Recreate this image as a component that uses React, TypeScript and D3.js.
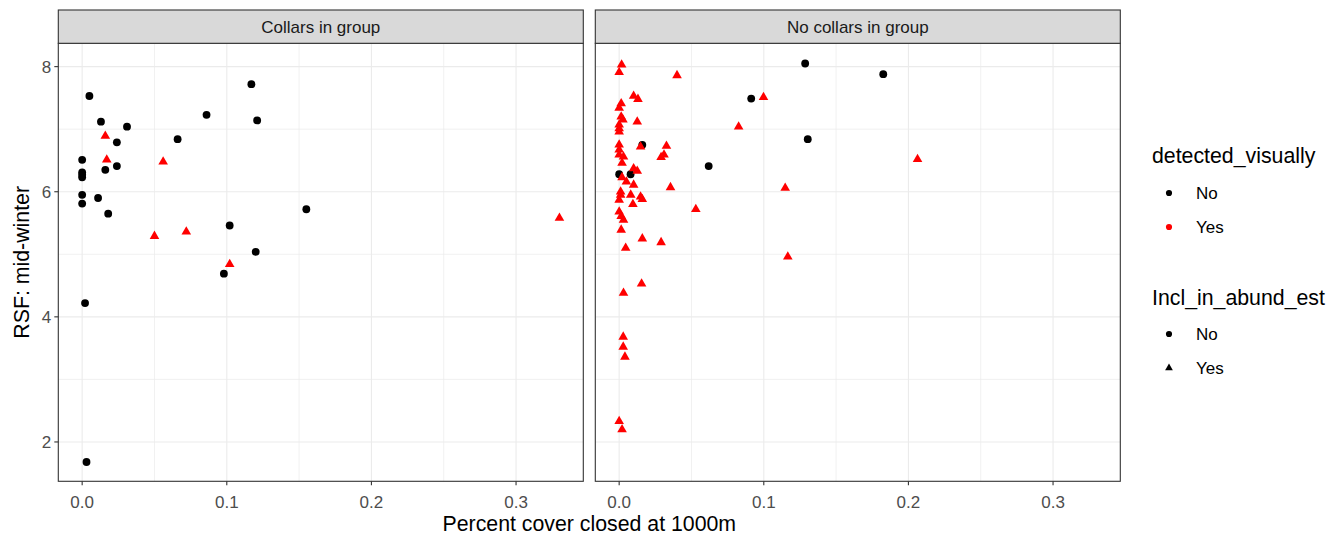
import * as d3 from "d3";

// facet strips
const facets = ["Collars in group", "No collars in group"];

// Collars in group: detected_visually = No (circles)
const collarsNoX = [0.005, 0.013, 0.031, 0.024, 0, 0, 0, 0, 0.016, 0.024, 0.011, 0.018, 0, 0, 0.066, 0.086, 0.117, 0.121, 0.155, 0.102, 0.12, 0.098, 0.003, 0.002];
const collarsNoY = [7.53, 7.12, 7.04, 6.79, 6.51, 6.31, 6.27, 6.23, 6.35, 6.41, 5.9, 5.65, 5.95, 5.81, 6.84, 7.23, 7.72, 7.14, 5.72, 5.46, 5.04, 4.69, 1.68, 4.22];
// Collars in group: detected_visually = Yes (triangles)
const collarsYesX = [0.016, 0.017, 0.056, 0.05, 0.072, 0.102, 0.33];
const collarsYesY = [6.89, 6.51, 6.48, 5.29, 5.36, 4.84, 5.58];

// No collars in group
const noCollarsNoX = [0.1286, 0.1826, 0.0913, 0.1304, 0.016, 0.0619, 0, 0.0079];
const noCollarsNoY = [8.05, 7.88, 7.49, 6.84, 6.75, 6.41, 6.28, 6.28];
const noCollarsYesX = [
  0.0017, 0, 0.04, 0.01, 0.013, 0.0014, 0, 0.0014, 0.0026, 0.0125, 0, 0, 0, 0.0826,
  0, 0, 0, 0.0148, 0.0327, 0.031, 0.029, 0.003, 0.002, 0.01, 0.0125, 0.002, 0.005,
  0.01, 0.0355, 0.001, 0.001, 0, 0.008, 0.0148, 0.016, 0.0095, 0.053, 0, 0.0014,
  0.003, 0.0014, 0.016, 0.029, 0.0045, 0.0155, 0.003, 0.0028, 0.0028, 0.004, 0, 0.002,
  0.0998, 0.2063, 0.1148, 0.1166,
];
const noCollarsYesY = [
  8.03, 7.91, 7.86, 7.53, 7.48, 7.41, 7.34, 7.2, 7.15, 7.12, 7.07, 7.01, 6.96, 7.04,
  6.75, 6.67, 6.59, 6.72, 6.73, 6.59, 6.55, 6.56, 6.46, 6.37, 6.33, 6.23, 6.16,
  6.11, 6.07, 6.0, 5.95, 5.87, 5.95, 5.92, 5.88, 5.8, 5.72, 5.68, 5.61,
  5.55, 5.39, 5.25, 5.19, 5.1, 4.53, 4.38, 3.68, 3.52, 3.36, 2.33, 2.2,
  7.51, 6.52, 6.06, 4.96,
];

const xTicks = [0, 0.1, 0.2, 0.3];
const xMinor = [0.05, 0.15, 0.25];
const yTicks = [2, 4, 6, 8];
const yMinor = [3, 5, 7];
const detectedLevels = ["No", "Yes"];
const inclLevels = ["No", "Yes"];

const panels = [
  { nx: collarsNoX, ny: collarsNoY, yx: collarsYesX, yy: collarsYesY },
  { nx: noCollarsNoX, ny: noCollarsNoY, yx: noCollarsYesX, yy: noCollarsYesY },
];

const W = 1338;
const H = 535;
const panelW = 525;
const panelLeft = [58.3, 595.3];
const panelTop = 43.3;
const panelBottom = 481.3;
const stripTop = 10;
const font = "'Liberation Sans', Arial, sans-serif";

const y = d3.scaleLinear().domain([1.371, 8.373]).range([panelBottom, panelTop]);

const circle = d3.symbol(d3.symbolCircle, 48)()!;
const tri = d3.symbol(d3.symbolTriangle, 40)()!;
const circleKey = d3.symbol(d3.symbolCircle, 30)()!;
const triKey = d3.symbol(d3.symbolTriangle, 26)()!;

function Panel({ i }: { i: number }) {
  const left = panelLeft[i];
  const x = d3.scaleLinear().domain([-0.0165, 0.3465]).range([left, left + panelW]);
  const p = panels[i];
  return (
    <g>
      {xMinor.map((t) => (
        <line key={"xm" + t} x1={x(t)} x2={x(t)} y1={panelTop} y2={panelBottom} stroke="#EBEBEB" strokeWidth={0.7} />
      ))}
      {yMinor.map((t) => (
        <line key={"ym" + t} x1={left} x2={left + panelW} y1={y(t)} y2={y(t)} stroke="#EBEBEB" strokeWidth={0.7} />
      ))}
      {xTicks.map((t) => (
        <line key={"x" + t} x1={x(t)} x2={x(t)} y1={panelTop} y2={panelBottom} stroke="#EBEBEB" strokeWidth={1.1} />
      ))}
      {yTicks.map((t) => (
        <line key={"y" + t} x1={left} x2={left + panelW} y1={y(t)} y2={y(t)} stroke="#EBEBEB" strokeWidth={1.1} />
      ))}
      {p.nx.map((v, j) => (
        <path key={"n" + j} d={circle} transform={`translate(${x(v)},${y(p.ny[j])})`} fill="#000" />
      ))}
      {p.yx.map((v, j) => (
        <path key={"t" + j} d={tri} transform={`translate(${x(v)},${y(p.yy[j])})`} fill="#FF0000" />
      ))}
      <rect x={left} y={panelTop} width={panelW} height={panelBottom - panelTop} fill="none" stroke="#333333" strokeWidth={1.1} />
      <rect x={left} y={stripTop} width={panelW} height={panelTop - stripTop} fill="#D9D9D9" stroke="#333333" strokeWidth={1.1} />
      <text x={left + panelW / 2} y={(stripTop + panelTop) / 2} dy="0.35em" textAnchor="middle" fontSize={17} fill="#1A1A1A">
        {facets[i]}
      </text>
      {xTicks.map((t) => (
        <g key={"xt" + t}>
          <line x1={x(t)} x2={x(t)} y1={panelBottom} y2={panelBottom + 4} stroke="#333333" strokeWidth={1.1} />
          <text x={x(t)} y={502} dy="0.35em" textAnchor="middle" fontSize={17} fill="#4D4D4D">
            {d3.format(".1f")(t)}
          </text>
        </g>
      ))}
      {i === 0 &&
        yTicks.map((t) => (
          <g key={"yt" + t}>
            <line x1={left - 4} x2={left} y1={y(t)} y2={y(t)} stroke="#333333" strokeWidth={1.1} />
            <text x={left - 7} y={y(t)} dy="0.35em" textAnchor="end" fontSize={17} fill="#4D4D4D">
              {t}
            </text>
          </g>
        ))}
    </g>
  );
}

export default function App() {
  const legX = 1152;
  return (
    <div style={{ position: "absolute", left: 0, top: 0 }}>
      <svg width={W} height={H} fontFamily={font} style={{ display: "block", background: "#fff" }}>
        <Panel i={0} />
        <Panel i={1} />
        <text x={(panelLeft[0] + panelLeft[1] + panelW) / 2} y={531} textAnchor="middle" fontSize={21.3} fill="#000">
          Percent cover closed at 1000m
        </text>
        <text transform={`translate(29,${(panelTop + panelBottom) / 2}) rotate(-90)`} textAnchor="middle" fontSize={21.3} fill="#000">
          RSF: mid-winter
        </text>
        <text x={legX} y={163} fontSize={21.3} fill="#000">detected_visually</text>
        {detectedLevels.map((lv, j) => (
          <g key={"d" + lv}>
            <path d={circleKey} transform={`translate(1169,${193 + j * 34})`} fill={j === 0 ? "#000" : "#FF0000"} />
            <text x={1196} y={193 + j * 34} dy="0.35em" fontSize={17} fill="#000">{lv}</text>
          </g>
        ))}
        <text x={legX} y={305} fontSize={21.3} fill="#000">Incl_in_abund_est</text>
        {inclLevels.map((lv, j) => (
          <g key={"i" + lv}>
            <path d={j === 0 ? circleKey : triKey} transform={`translate(1169,${334 + j * 34})`} fill="#000" />
            <text x={1196} y={334 + j * 34} dy="0.35em" fontSize={17} fill="#000">{lv}</text>
          </g>
        ))}
      </svg>
    </div>
  );
}
